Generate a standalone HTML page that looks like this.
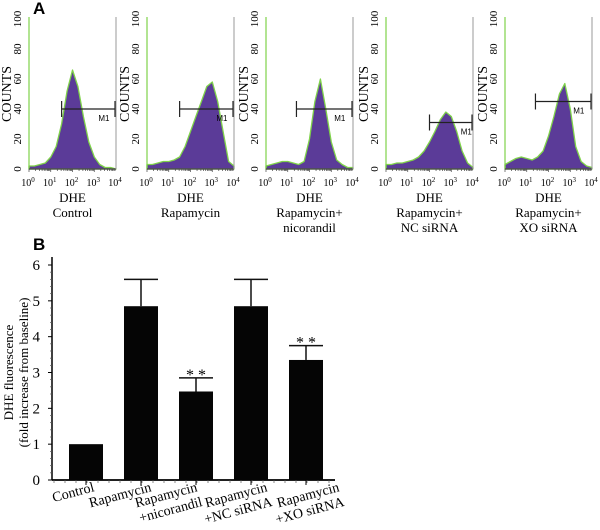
<!DOCTYPE html>
<html><head><meta charset="utf-8"><style>
body{margin:0;background:#fff;}
svg{display:block;font-family:"Liberation Serif",serif;}
</style></head><body>
<svg id="fig" width="600" height="530" viewBox="0 0 600 530" xmlns="http://www.w3.org/2000/svg">
<text x="33" y="14" font-family="Liberation Sans,sans-serif" font-weight="bold" font-size="17">A</text>
<text x="33" y="250" font-family="Liberation Sans,sans-serif" font-weight="bold" font-size="17">B</text>
<g id="hists"></g>
<g id="bars"></g>
</svg>
<script>
// ---------- Panel A data ----------
const histLine1 = ["Control","Rapamycin","Rapamycin+","Rapamycin+","Rapamycin+"];
const histLine2 = ["","","nicorandil","NC siRNA","XO siRNA"];
const histControl = [2,2,3,4,8,15,30,52,66,55,35,18,8,3,1,1,0];
const histRapa = [3,3,4,5,5,6,8,15,25,35,45,55,58,45,25,5,2];
const histNico = [2,3,4,5,5,4,3,5,20,45,60,40,18,6,3,1,1];
const histNC = [3,3,4,4,5,6,8,12,18,25,33,38,35,25,12,4,1];
const histXO = [3,5,7,8,7,6,8,12,22,35,50,57,40,15,5,2,1];
const histSeries = [histControl,histRapa,histNico,histNC,histXO];
const markerStart = [1.5,1.5,1.4,2.0,1.4];
const markerEnd = [4,4,4,4,4];
const markerLevel = [40,40,40,31,45];
const countTicks = [0,20,40,60,80,100];
const decadeTicks = [0,1,2,3,4];

// ---------- Panel B data ----------
const categories = ["Control","Rapamycin","Rapamycin\n+nicorandil","Rapamycin\n+NC siRNA","Rapamycin\n+XO siRNA"];
const means = [1,4.85,2.47,4.85,3.35];
const errors = [0,0.75,0.38,0.75,0.4];
const stars = [false,false,true,false,true];
const yTicks = [0,1,2,3,4,5,6];

const NS="http://www.w3.org/2000/svg";
function mk(tag,attrs,parent){const e=document.createElementNS(NS,tag);for(const k in attrs)e.setAttribute(k,attrs[k]);parent.appendChild(e);return e;}

// Panel A
const H=document.getElementById('hists');
const panelX=[29,147,266,386,505], pw=87, yb=169, yt=19;
histSeries.forEach((vals,p)=>{
  const x0=panelX[p];
  const sx=v=>x0+v/4*pw, sy=c=>yb-c/100*(yb-yt);
  const g=mk('g',{},H);
  
  
  let d='M'+sx(0)+','+yb;
  vals.forEach((v,i)=>{d+=' L'+sx(i*0.25).toFixed(1)+','+sy(v).toFixed(1);});
  d+=' L'+sx(4)+','+yb+' Z';
  const a=mk('path',{d:d,fill:'#5b3b98',stroke:'#7fd24a','stroke-width':1.3,'stroke-linejoin':'round'},g);
  
  
  mk('line',{x1:x0,y1:yt-2,x2:x0,y2:yb,stroke:'#7fd24a','stroke-width':1.2},g);
  mk('line',{x1:x0,y1:yb,x2:x0+pw,y2:yb,stroke:'#444','stroke-width':1.2},g);
  mk('line',{x1:x0+pw,y1:yt-2,x2:x0+pw,y2:yb,stroke:'#999','stroke-width':1},g);
  for(let dd=0;dd<4;dd++)for(let m=1;m<10;m++){const xx=sx(dd+Math.log10(m));mk('line',{x1:xx,y1:yb,x2:xx,y2:yb+(m==1?3:2),stroke:'#444','stroke-width':0.7},g);}
  countTicks.forEach(c=>{
    const t=mk('text',{x:0,y:0,'font-size':11,'text-anchor':'middle',transform:`translate(${x0-8},${sy(c)}) rotate(-90)`},g);
    t.textContent=c;
    
    
  });
  const ct=mk('text',{x:0,y:0,'font-size':14,'text-anchor':'middle',transform:`translate(${x0-18},${sy(50)}) rotate(-90)`},g);
  ct.textContent='COUNTS';
  
  
  decadeTicks.forEach(k=>{
    const t=mk('text',{x:sx(k)-1,y:yb+17,'font-size':10,'text-anchor':'middle'},g);
    t.innerHTML='10<tspan dy="-4" font-size="7">'+k+'</tspan>';
    
    
  });
  const cx=x0+pw/2;
  const dt=mk('text',{x:cx,y:yb+33,'font-size':13,'text-anchor':'middle'},g);
  dt.textContent='DHE';
  
  
  const l1=mk('text',{x:cx,y:yb+48,'font-size':13,'text-anchor':'middle'},g);
  l1.textContent=histLine1[p];
  
  
  if(histLine2[p]){const l2=mk('text',{x:cx,y:yb+63,'font-size':13,'text-anchor':'middle'},g);
    l2.textContent=histLine2[p];
    
    }
  const ma=sx(markerStart[p]),mb=sx(markerEnd[p])-1,my=sy(markerLevel[p]);
  const mg=mk('g',{stroke:'#222','stroke-width':1.2},g);
  
  
  mk('line',{x1:ma,y1:my,x2:mb,y2:my},mg);
  mk('line',{x1:ma,y1:my-8,x2:ma,y2:my+8},mg);
  mk('line',{x1:mb,y1:my-8,x2:mb,y2:my+8},mg);
  const mt=mk('text',{x:(ma+mb)/2+10,y:my+12,'font-size':8,'font-family':'Liberation Sans,sans-serif'},g);
  mt.textContent='M1';
  
  
});

// Panel B
const B=document.getElementById('bars');
const ax=52, y0=480, yTop=265, ymax=6, xEnd=335;
const sy=v=>y0-v/ymax*(y0-yTop);
const bx=i=>86+i*55;
const bw=34;
// label end offsets relative to bar centre (layout)
const labelShift=[9,11,2,17,34];
const ya=mk('line',{x1:ax,y1:yTop-8,x2:ax,y2:y0,stroke:'#000','stroke-width':1.5},B);


yTicks.forEach(v=>{
  mk('line',{x1:ax-4,y1:sy(v),x2:ax,y2:sy(v),stroke:'#000','stroke-width':1},B);
  if(v<ymax){for(let m=1;m<5;m++){const yy=sy(v+m/5);mk('line',{x1:ax-2,y1:yy,x2:ax,y2:yy,stroke:'#555','stroke-width':0.7},B);}}
  const t=mk('text',{x:ax-12,y:sy(v)+5,'font-size':15,'text-anchor':'end'},B);
  t.textContent=v;
  
  
});
const yt1=mk('text',{x:0,y:0,'font-size':13,'text-anchor':'middle',transform:`translate(13,${sy(3)}) rotate(-90)`},B);
yt1.textContent='DHE fluorescence';


const yt2=mk('text',{x:0,y:0,'font-size':13,'text-anchor':'middle',transform:`translate(28,${sy(3)}) rotate(-90)`},B);
yt2.textContent='(fold increase from baseline)';


const xa=mk('line',{x1:ax,y1:y0,x2:xEnd,y2:y0,stroke:'#000','stroke-width':1.8},B);


for(let xx=ax+2;xx<=xEnd;xx+=11){mk('line',{x1:xx,y1:y0,x2:xx,y2:y0+3,stroke:'#555','stroke-width':0.7},B);}
categories.forEach((c,i)=>{
  const cx=bx(i);
  mk('line',{x1:cx,y1:y0,x2:cx,y2:y0+5,stroke:'#000','stroke-width':1},B);
  const r=mk('rect',{x:cx-bw/2,y:sy(means[i]),width:bw,height:y0-sy(means[i]),fill:'#050505'},B);
  
  
  if(errors[i]>0){
    const top=sy(means[i]+errors[i]);
    const eg=mk('g',{stroke:'#111','stroke-width':1.5},B);
    
    
    mk('line',{x1:cx,y1:sy(means[i]),x2:cx,y2:top},eg);
    mk('line',{x1:cx-bw/2,y1:top,x2:cx+bw/2,y2:top},eg);
    if(stars[i]){const s=mk('text',{x:cx,y:top+2,'font-size':16,'text-anchor':'middle'},B);
      s.textContent='* *';
      
      }
  }
  const lines=c.split('\n');
  const g=mk('g',{transform:`translate(${cx+labelShift[i]},${y0+11}) rotate(-15)`},B);
  
  
  lines.forEach((ln,k)=>{const t=mk('text',{x:k*1,y:k*15.5,'font-size':14,'text-anchor':'end'},g);t.textContent=ln;});
});
</script>
</body></html>
